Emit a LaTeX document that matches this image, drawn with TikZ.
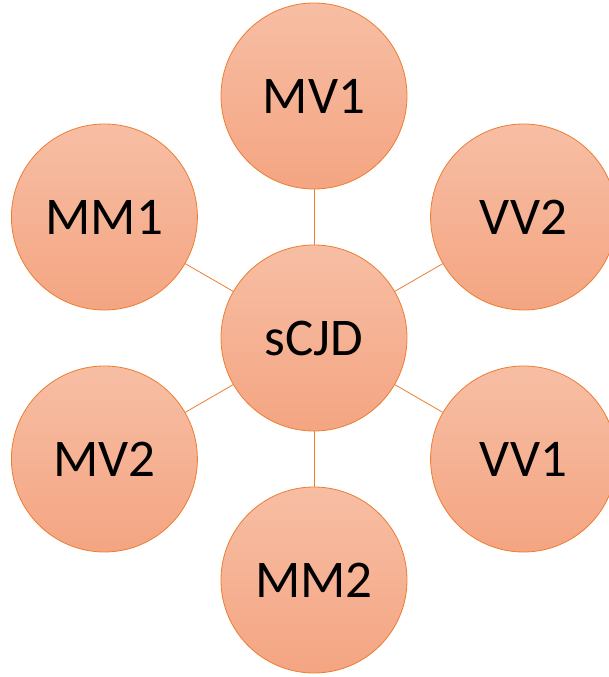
\documentclass[tikz,border=0pt]{standalone}
\usepackage{fontspec}
\setmainfont{Carlito}
\usepackage{tikz}

\definecolor{edgeorange}{RGB}{237,125,49}
\definecolor{fillhi}{RGB}{247,190,164}
\definecolor{filllo}{RGB}{244,165,130}

\tikzset{
	bubble/.style={circle, draw=edgeorange, line width=0.8pt,
		top color=fillhi, bottom color=filllo,
		minimum size=186pt, inner sep=0pt,
		font=\fontsize{53}{64}\selectfont},
	spoke/.style={draw=edgeorange, line width=0.8pt}
}

\begin{document}
\begin{tikzpicture}[x=1pt,y=1pt]
				\useasboundingbox (-314,-339) rectangle (294,338);
				\node[bubble] (scjd) at (0,0) {sCJD};
				\foreach \n/\a/\t in
				{mv1/90/MV1, mm1/150/MM1, mv2/210/MV2, mm2/270/MM2, vv1/330/VV1, vv2/30/VV2}{
					\node[bubble] (\n) at (\a:242pt) {\t};
				}
				
				% spokes from the centre
				\foreach \n in
				{mv1,mm1,mv2,mm2,vv1,vv2}{
					\draw[spoke] (scjd)--(\n);
				}
			\end{tikzpicture}
\end{document}
